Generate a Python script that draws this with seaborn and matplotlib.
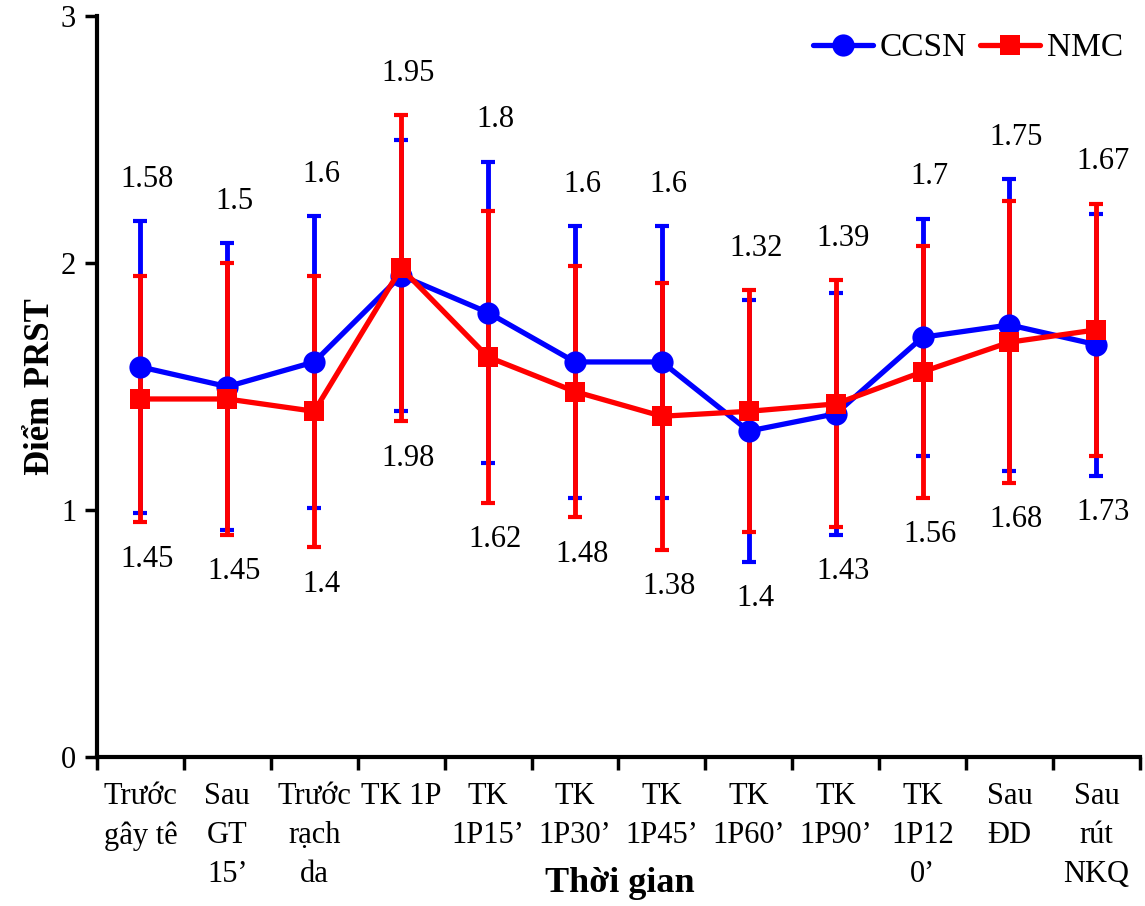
import numpy as np
import pandas as pd
import matplotlib
matplotlib.use("Agg")
import matplotlib.pyplot as plt
import seaborn as sns

# nhãn trục x (thời điểm)
categories = ["Trước\ngây tê", "Sau\nGT\n15’", "Trước\nrạch\nda", "TK 1P",
              "TK\n1P15’", "TK\n1P30’", "TK\n1P45’", "TK\n1P60’",
              "TK\n1P90’", "TK\n1P12\n0’", "Sau\nĐD", "Sau\nrút\nNKQ"]

# điểm PRST trung bình và độ lệch chuẩn
ccsn_mean = [1.58, 1.5, 1.6, 1.95, 1.8, 1.6, 1.6, 1.32, 1.39, 1.7, 1.75, 1.67]
ccsn_sd = [0.59, 0.58, 0.59, 0.55, 0.61, 0.55, 0.55, 0.53, 0.49, 0.48, 0.59, 0.53]
nmc_mean = [1.45, 1.45, 1.4, 1.98, 1.62, 1.48, 1.38, 1.4, 1.43, 1.56, 1.68, 1.73]
nmc_sd = [0.50, 0.55, 0.55, 0.62, 0.59, 0.51, 0.54, 0.49, 0.50, 0.51, 0.57, 0.51]

sns.set_style("ticks")
plt.rcParams["font.family"] = ["Liberation Serif", "DejaVu Serif"]
for key in ["text.color", "axes.labelcolor", "xtick.color", "ytick.color"]:
    plt.rcParams[key] = "black"

BLUE = "#0000FF"
RED = "#FF0000"

df = pd.DataFrame({
    "pos": np.arange(len(categories)),
    "ccsn": ccsn_mean, "ccsn_sd": ccsn_sd,
    "nmc": nmc_mean, "nmc_sd": nmc_sd,
})

fig = plt.figure(figsize=(11.45, 9.06), dpi=100)
ax = fig.add_axes([0.0847, 0.1645, 0.9108, 0.8175])

# thanh sai số
ax.errorbar(df.pos, df.ccsn, yerr=df.ccsn_sd, fmt="none", ecolor=BLUE,
            elinewidth=3.5, capsize=5, capthick=3, zorder=2)
ax.errorbar(df.pos, df.nmc, yerr=df.nmc_sd, fmt="none", ecolor=RED,
            elinewidth=3.5, capsize=5, capthick=3, zorder=3)

sns.lineplot(data=df, x="pos", y="ccsn", color=BLUE, marker="o", markersize=16,
             markeredgewidth=0, linewidth=3.8, label="CCSN", ax=ax, zorder=4)
sns.lineplot(data=df, x="pos", y="nmc", color=RED, marker="s", markersize=15,
             markeredgewidth=0, linewidth=3.8, label="NMC", ax=ax, zorder=5)

# nhãn giá trị
for i in range(len(categories)):
    top = max(ccsn_mean[i] + ccsn_sd[i], nmc_mean[i] + nmc_sd[i]) + 0.17
    bot = min(ccsn_mean[i] - ccsn_sd[i], nmc_mean[i] - nmc_sd[i]) - 0.15
    ax.text(i + 0.08, top, f"{ccsn_mean[i]:g}", ha="center", va="center", fontsize=22)
    ax.text(i + 0.08, bot, f"{nmc_mean[i]:g}", ha="center", va="center", fontsize=22)

ax.set_xlim(-0.5, len(categories) - 0.5)
ax.set_ylim(0, 3)
ax.set_yticks([0, 1, 2, 3])
ax.set_xticks(np.arange(len(categories) + 1) - 0.5)
ax.set_xticklabels([])
ax.set_xticks(np.arange(len(categories)), minor=True)
ax.set_xticklabels(categories, minor=True, fontsize=22, linespacing=1.45)
ax.tick_params(axis="x", which="minor", length=0, pad=18)
ax.tick_params(axis="x", which="major", length=9, width=2.5, direction="out")
ax.tick_params(axis="y", length=9, width=2.5, labelsize=22, pad=6)

for side in ["top", "right"]:
    ax.spines[side].set_visible(False)
for side in ["left", "bottom"]:
    ax.spines[side].set_linewidth(3)
    ax.spines[side].set_color("black")

ax.set_xlabel("Thời gian", fontsize=26, fontweight="bold")
ax.xaxis.set_label_coords(0.501, -0.148)
ax.set_ylabel("Điểm PRST", fontsize=25, fontweight="bold", labelpad=3)

ax.legend(loc="upper right", bbox_to_anchor=(1.0, 1.0), ncol=2, frameon=False,
          fontsize=24, handlelength=1.8, columnspacing=0.4, handletextpad=0.2,
          borderaxespad=0.1)

fig.savefig("out.png", dpi=100)
